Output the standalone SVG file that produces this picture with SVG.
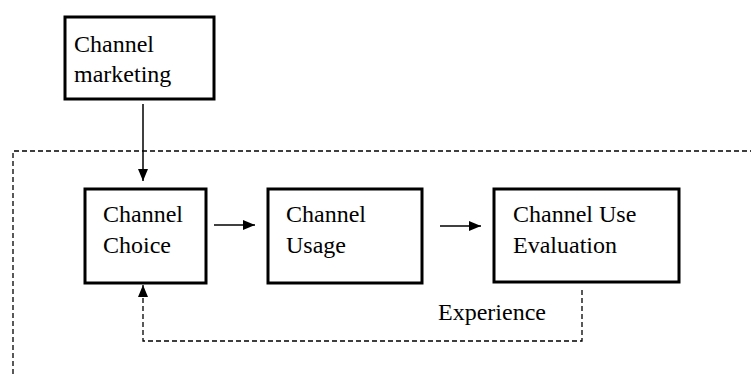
<svg xmlns="http://www.w3.org/2000/svg" width="751" height="374" viewBox="0 0 751 374">
<style>
.box{fill:#fff;stroke:#000;stroke-width:3}
text{font-family:'Liberation Serif','DejaVu Serif',serif;font-size:24px;fill:#000}
.ln{stroke:#000;stroke-width:1.5;fill:none}
.dash{stroke:#000;stroke-width:1.3;fill:none;stroke-dasharray:5 3}
</style>
<defs>
<marker id="ah" viewBox="0 0 12 10" refX="12" refY="5" markerWidth="12" markerHeight="10" markerUnits="userSpaceOnUse" orient="auto">
<path d="M0,0 L12,5 L0,10 Z" fill="#000"/>
</marker>
</defs>
<g id="boundary">
<path class="dash" d="M13,374 L13,151 L751,151"/>
</g>
<g id="connectors">
<line class="ln" x1="143" y1="104" x2="143" y2="181" marker-end="url(#ah)"/>
<line class="ln" x1="214" y1="225" x2="255" y2="225" marker-end="url(#ah)"/>
<line class="ln" x1="440" y1="226" x2="481" y2="226" marker-end="url(#ah)"/>
<path class="dash" d="M582,290 L582,341 L143,341 L143,285" marker-end="url(#ah)"/>
</g>
<g id="node-marketing">
<rect class="box" x="65" y="17" width="149" height="82"/>
<text x="74" y="52" font-family="Liberation Serif">Channel</text>
<text x="74" y="82" font-family="Liberation Serif">marketing</text>
</g>
<g id="node-choice">
<rect class="box" x="85" y="189" width="121" height="94"/>
<text x="103" y="222" font-family="Liberation Serif">Channel</text>
<text x="103" y="253" font-family="Liberation Serif">Choice</text>
</g>
<g id="node-usage">
<rect class="box" x="268" y="189" width="154" height="94"/>
<text x="286" y="222" font-family="Liberation Serif">Channel</text>
<text x="286" y="253" font-family="Liberation Serif">Usage</text>
</g>
<g id="node-evaluation">
<rect class="box" x="494" y="189" width="185" height="93"/>
<text x="513" y="222" font-family="Liberation Serif">Channel Use</text>
<text x="513" y="253" font-family="Liberation Serif">Evaluation</text>
</g>
<g id="label-experience">
<text x="438" y="320" font-family="Liberation Serif">Experience</text>
</g>
</svg>
